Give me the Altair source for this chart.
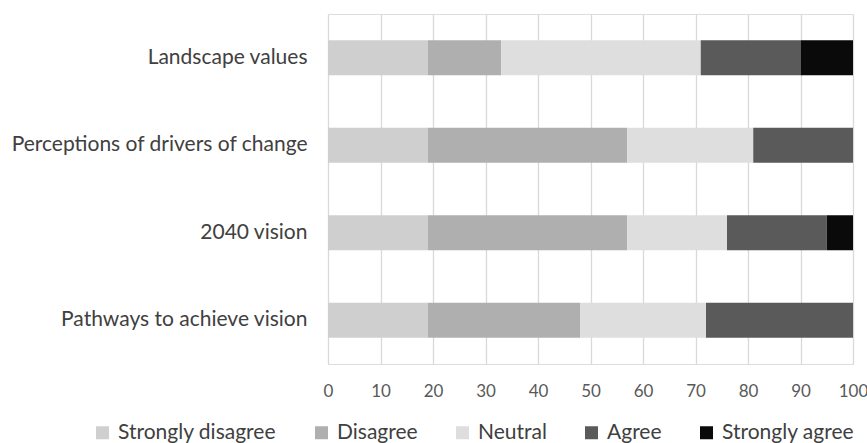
import altair as alt
import pandas as pd

categories = ["Landscape values", "Perceptions of drivers of change", "2040 vision\u2002", "Pathways to achieve vision"]
responses = ["Strongly disagree", "Disagree", "Neutral", "Agree", "Strongly agree"]
colors = ["#cfcfcf", "#afafaf", "#dedede", "#5a5a5a", "#0a0a0a"]

strongly_disagree = [19, 19, 19, 19]
disagree = [14, 38, 38, 29]
neutral = [38, 24, 19, 24]
agree = [19, 19, 19, 28]
strongly_agree = [10, 0, 5, 0]

series = [strongly_disagree, disagree, neutral, agree, strongly_agree]
rows = []
for ri, (resp, vals) in enumerate(zip(responses, series)):
    for cat, v in zip(categories, vals):
        rows.append({"category": cat, "response": resp, "value": v, "order": ri})
df = pd.DataFrame(rows)

font = "Lato"

chart = alt.Chart(df).mark_bar().encode(
    y=alt.Y("category:N", sort=categories, title=None,
            scale=alt.Scale(paddingInner=0.6, paddingOuter=0.3),
            axis=alt.Axis(domain=False, ticks=False, grid=False, labelPadding=21,
                          labelFontSize=21, labelColor="#404040", labelFont=font, labelLimit=400)),
    x=alt.X("value:Q", stack="zero", title=None,
            scale=alt.Scale(domain=[0, 100], nice=False),
            axis=alt.Axis(values=list(range(0, 101, 10)), domain=False, ticks=False, grid=True,
                          gridColor="#d9d9d9", gridWidth=1.3, labelPadding=19, labelFontSize=17,
                          labelColor="#595959", labelFont=font, labelFlush=False)),
    color=alt.Color("response:N", sort=responses,
                    scale=alt.Scale(domain=responses, range=colors),
                    legend=alt.Legend(title=None, orient="none", legendX=-236, legendY=408,
                                      direction="horizontal", symbolType="square", symbolSize=169,
                                      symbolStrokeWidth=0, labelFontSize=21, labelFont=font,
                                      labelColor="#404040", columnPadding=34, labelOffset=5)),
    order=alt.Order("order:Q", sort="ascending"),
).properties(
    width=525, height=350,
    autosize=alt.AutoSizeParams(type="none"),
    padding={"left": 328, "top": 14, "right": 14, "bottom": 79},
).configure_view(stroke=None).configure(background="white")

chart.save("out.html", embed_options={"renderer": "svg", "actions": False})
